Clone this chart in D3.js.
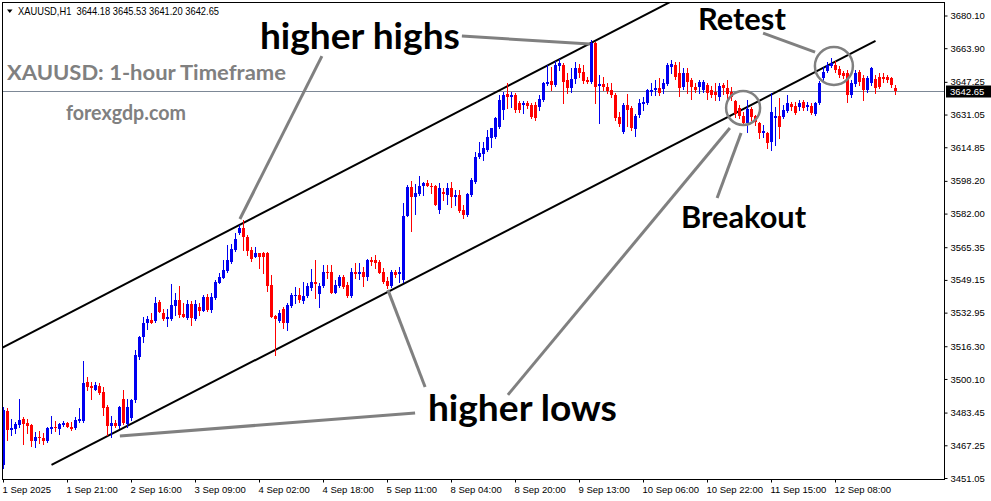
<!DOCTYPE html>
<html><head><meta charset="utf-8">
<script src="https://cdn.jsdelivr.net/npm/d3@7/dist/d3.min.js"></script>
<style>body{margin:0;background:#fff;}svg{display:block;}</style>
</head><body>
<svg id="c" width="991" height="501"></svg>
<script>
const symbolName = "XAUUSD,H1";
const opens = [3457.3,3484.3,3474.8,3475.3,3477.3,3480.3,3478.3,3477.3,3469.3,3471.3,3470.8,3469.3,3475.3,3476.3,3475.3,3477.3,3478.3,3476.3,3475.8,3479.3,
3479.3,3498.8,3496.8,3494.8,3496.8,3493.8,3486.3,3476.8,3478.3,3476.8,3490.3,3477.8,3480.8,3489.8,3510.9,3520.9,3527.9,3529.4,3528.9,3538.4,
3532.9,3529.9,3529.9,3536.4,3539.1,3532.4,3530.4,3537.4,3529.9,3535.9,3533.9,3540.6,3534.4,3540.1,3547.6,3550.1,3553.6,3558.1,3563.9,3572.4,
3574.9,3570.4,3563.9,3560.6,3562.6,3562.6,3562.6,3546.6,3531.4,3528.9,3534.9,3527.9,3536.4,3541.1,3541.6,3538.9,3541.1,3545.1,3548.1,3542.1,
3546.1,3553.1,3553.1,3542.6,3546.1,3550.6,3546.6,3541.1,3553.1,3552.1,3553.1,3550.6,3559.1,3559.1,3558.1,3553.1,3548.6,3546.1,3553.1,3552.1,
3549.1,3580.9,3595.1,3590.1,3591.6,3595.6,3597.1,3595.6,3595.6,3583.9,3592.6,3591.1,3594.6,3590.1,3591.1,3583.9,3581.4,3591.1,3597.6,3610.1,
3611.6,3613.4,3619.4,3619.9,3624.9,3633.4,3641.2,3639.7,3640.7,3636.9,3635.9,3636.9,3635.9,3635.9,3634.9,3638.2,3646.2,3647.7,3645.7,3655.2,
3655.7,3648.2,3644.2,3648.7,3654.2,3652.2,3648.2,3647.2,3666.4,3645.2,3646.2,3644.7,3643.2,3640.7,3629.9,3622.4,3635.9,3634.4,3623.9,3630.9,
3636.4,3636.9,3642.2,3643.2,3644.2,3643.7,3646.2,3654.7,3655.7,3651.7,3644.7,3651.7,3648.2,3644.7,3644.7,3643.2,3645.7,3643.2,3642.2,3639.7,
3645.7,3644.2,3642.2,3637.7,3634.4,3630.4,3626.9,3633.9,3630.4,3626.9,3621.9,3621.9,3617.4,3629.4,3630.4,3629.9,3632.9,3636.4,3635.4,3634.9,
3637.4,3634.9,3635.4,3631.4,3636.9,3649.2,3652.7,3655.2,3655.7,3653.7,3651.7,3651.7,3640.7,3646.2,3652.2,3649.2,3643.2,3646.7,3648.7,3649.7,
3649.7,3649.7,3649.2,3644.18];
const highs = [3486.3,3485.8,3480.3,3478.8,3490.3,3481.3,3480.3,3477.8,3473.8,3474.3,3473.3,3476.3,3481.8,3479.3,3478.3,3479.3,3478.8,3478.8,3481.3,3485.8,
3508.9,3501.3,3498.8,3498.8,3498.3,3496.3,3487.3,3481.8,3479.8,3486.8,3494.8,3490.3,3490.3,3514.4,3521.4,3530.9,3531.4,3532.9,3540.6,3539.4,
3534.9,3534.9,3547.1,3542.6,3546.1,3537.9,3539.1,3538.9,3539.1,3537.9,3541.6,3542.1,3542.6,3549.1,3552.6,3559.1,3566.4,3566.9,3572.4,3576.4,
3578.9,3571.4,3565.4,3565.4,3562.6,3563.1,3563.1,3551.6,3531.9,3534.4,3535.9,3537.9,3542.6,3545.6,3545.1,3548.1,3547.6,3554.6,3559.1,3547.6,
3556.6,3556.6,3556.6,3549.1,3551.6,3551.6,3548.1,3555.1,3557.6,3557.6,3555.6,3559.6,3560.6,3561.6,3559.1,3555.1,3550.6,3554.1,3554.1,3555.6,
3587.4,3596.1,3598.1,3596.6,3600.6,3597.6,3598.6,3597.1,3596.1,3597.1,3594.6,3597.1,3597.6,3593.6,3593.6,3586.4,3592.1,3599.6,3612.6,3617.4,
3617.4,3623.4,3624.4,3629.9,3640.7,3642.2,3646.7,3642.2,3641.7,3637.9,3637.9,3637.9,3636.9,3637.4,3640.7,3647.2,3655.7,3654.7,3657.7,3658.7,
3656.7,3651.7,3654.2,3657.2,3656.2,3655.7,3649.7,3668.2,3666.9,3650.7,3649.7,3646.7,3646.7,3641.7,3632.4,3636.9,3641.2,3635.4,3631.4,3638.7,
3639.7,3643.7,3646.7,3648.2,3649.2,3648.7,3656.7,3658.2,3657.2,3657.2,3654.2,3654.2,3649.2,3646.7,3648.2,3648.2,3646.7,3645.2,3646.7,3646.7,
3646.7,3648.2,3644.7,3638.2,3635.9,3632.4,3638.4,3634.9,3630.9,3627.4,3625.9,3622.4,3641.7,3634.9,3639.4,3635.9,3640.7,3637.4,3637.4,3638.4,
3638.4,3637.4,3636.9,3637.4,3647.7,3654.7,3657.2,3659.2,3657.7,3655.2,3652.7,3653.2,3648.2,3653.2,3653.2,3650.7,3650.2,3654.7,3650.7,3651.7,
3651.7,3650.7,3649.7,3645.53];
const lows = [3455.8,3469.8,3472.3,3473.3,3476.3,3467.8,3473.3,3466.8,3466.3,3468.3,3467.8,3468.8,3473.3,3474.3,3472.8,3476.8,3476.3,3474.8,3475.3,3478.8,
3478.8,3494.8,3490.3,3494.8,3492.8,3482.3,3472.3,3471.3,3476.3,3475.8,3477.8,3476.3,3479.8,3488.8,3509.9,3518.4,3524.9,3527.9,3528.4,3533.4,
3529.4,3526.4,3529.4,3531.9,3530.9,3530.9,3529.9,3526.9,3529.4,3531.9,3533.9,3533.9,3533.4,3539.6,3547.6,3550.1,3553.1,3557.6,3563.4,3571.9,
3563.9,3561.6,3558.6,3560.6,3555.1,3552.6,3543.6,3530.9,3511.9,3528.4,3525.4,3524.4,3535.9,3537.9,3538.4,3537.9,3540.6,3544.1,3540.1,3535.9,
3545.6,3550.1,3542.6,3542.6,3545.6,3545.1,3540.6,3540.6,3550.1,3549.6,3546.1,3549.1,3556.6,3555.1,3552.6,3547.6,3545.1,3545.6,3550.6,3548.1,
3548.1,3580.9,3573.4,3581.9,3591.1,3591.1,3595.6,3592.1,3586.4,3582.4,3588.6,3586.9,3585.4,3586.4,3582.9,3579.9,3580.9,3590.6,3597.1,3609.6,
3608.6,3612.9,3614.9,3619.4,3624.4,3628.9,3634.4,3634.9,3632.4,3632.4,3631.9,3634.4,3629.4,3628.4,3633.4,3637.7,3645.7,3643.2,3645.2,3653.2,
3636.9,3641.7,3642.2,3646.7,3649.7,3646.7,3646.7,3646.7,3636.9,3626.9,3643.2,3641.7,3639.7,3628.4,3625.4,3621.9,3625.4,3623.4,3620.4,3629.9,
3633.4,3636.4,3640.7,3640.7,3640.7,3641.7,3645.7,3651.7,3648.7,3640.2,3643.7,3641.7,3638.7,3642.2,3641.7,3642.2,3638.7,3639.7,3638.2,3638.2,
3641.2,3638.7,3638.2,3629.9,3629.4,3625.9,3622.4,3628.4,3625.9,3619.4,3619.9,3614.4,3613.4,3615.9,3619.4,3629.4,3632.4,3633.4,3631.4,3633.4,
3633.4,3633.4,3631.4,3630.9,3636.4,3648.2,3652.2,3654.7,3652.2,3649.7,3649.2,3637.4,3639.7,3645.2,3645.7,3638.2,3642.2,3645.7,3641.7,3644.2,
3647.2,3647.2,3644.7,3641.20];
const closes = [3484.8,3474.8,3475.8,3477.8,3479.8,3477.8,3476.8,3469.3,3471.3,3470.8,3469.3,3475.8,3476.3,3475.8,3477.8,3478.3,3476.3,3475.3,3479.8,3480.3,
3498.3,3496.3,3495.8,3497.3,3493.3,3485.8,3476.8,3478.3,3476.8,3486.3,3478.3,3486.3,3489.8,3511.9,3520.9,3527.9,3529.9,3527.9,3537.9,3533.4,
3529.9,3530.9,3536.9,3539.1,3531.9,3530.9,3537.4,3530.4,3537.4,3533.9,3540.6,3534.4,3540.6,3548.1,3550.6,3554.1,3559.1,3564.4,3569.4,3574.9,
3570.4,3563.4,3559.6,3562.6,3560.6,3560.6,3546.1,3530.9,3529.9,3532.9,3527.9,3536.9,3541.6,3541.6,3539.1,3541.1,3546.1,3548.1,3547.1,3546.1,
3553.1,3552.6,3542.6,3546.6,3550.6,3545.6,3541.1,3553.1,3552.1,3553.1,3550.6,3559.1,3558.1,3557.6,3552.6,3548.1,3546.1,3553.1,3551.6,3553.1,
3580.9,3595.1,3590.1,3592.1,3595.6,3597.1,3595.6,3595.1,3586.4,3594.6,3591.6,3594.6,3590.1,3591.1,3583.4,3581.4,3591.6,3598.6,3610.1,3612.1,
3614.4,3619.9,3624.4,3629.4,3638.2,3640.7,3639.7,3640.7,3633.4,3633.4,3636.9,3635.4,3629.9,3629.4,3638.7,3646.7,3647.2,3645.7,3655.7,3656.7,
3647.2,3644.2,3648.7,3654.2,3651.7,3647.7,3647.2,3666.4,3644.7,3646.2,3644.7,3642.7,3640.7,3629.4,3626.4,3635.9,3633.4,3624.4,3630.4,3636.9,
3637.4,3643.2,3643.2,3644.2,3641.7,3646.7,3655.7,3656.2,3649.7,3644.2,3651.7,3647.2,3644.7,3643.2,3647.2,3647.2,3641.7,3640.7,3640.7,3645.2,
3644.2,3641.2,3639.7,3631.4,3630.4,3626.9,3633.9,3629.9,3627.4,3621.9,3622.9,3616.9,3632.4,3630.4,3624.9,3633.4,3636.9,3634.9,3631.9,3636.9,
3634.4,3635.9,3631.9,3636.9,3646.7,3652.2,3655.7,3656.7,3653.2,3650.7,3650.2,3640.7,3646.7,3651.7,3647.2,3643.2,3649.2,3654.2,3644.2,3644.7,
3648.7,3648.2,3645.7,3642.65];
const priceTicks = [3680.10,3663.90,3647.25,3631.05,3614.85,3598.20,3582.00,3565.35,3549.15,3532.95,3516.30,3500.10,3483.45,3467.25,3451.05];
const timeLabels = ["1 Sep 2025","1 Sep 21:00","2 Sep 16:00","3 Sep 09:00","4 Sep 02:00","4 Sep 18:00","5 Sep 11:00","8 Sep 04:00","8 Sep 20:00","9 Sep 13:00","10 Sep 06:00","10 Sep 22:00","11 Sep 15:00","12 Sep 08:00"];
const barsPerTimeLabel = 16;
// annotations in (bar index, price)
const upperChannel = [[0,3515.9],[146,3665.6]];
const lowerChannel = [[12,3457.5],[218,3667.5]];
const pointers = [
  [[114.6,3669.9],[146.6,3666.0]],
  [[79.6,3660.0],[59.1,3579.3]],
  [[102.9,3483.2],[29.1,3471.9]],
  [[105.4,3496.1],[96.1,3544.2]],
  [[126.1,3492.2],[181.6,3624.4]],
  [[178.4,3589.7],[184.4,3621.9]],
  [[189.9,3671.4],[202.9,3662.0]]
];
const circles = [[184.9,3634.3,17],[207.6,3655.1,19]];
const labels = [
  {t:"higher highs", i:64.1, p:3663.5, fs:36, w:200},
  {t:"higher lows", i:106.1, p:3479.3, fs:36, w:189},
  {t:"Breakout", i:169.4, p:3574.9, fs:30, w:125},
  {t:"Retest", i:173.6, p:3672.9, fs:30, w:88}
];

const svg = d3.select("#c");
const N = closes.length;
const L = 2.5, T = 2.5, R = 944.5, B = 479.5;
const x = d3.scaleLinear().domain([0, N - 1]).range([3.5, 3.5 + 4 * (N - 1)]);
const y = d3.scaleLinear().domain([3451.05, 3680.10]).range([478, 15.5]);

svg.append("defs").append("clipPath").attr("id","pc").append("rect")
  .attr("x", L).attr("y", T).attr("width", R - L).attr("height", B - T);

const plot = svg.append("g").attr("clip-path","url(#pc)");

// current price line
const last = N - 1;
const cy = Math.round(y(closes[last])) + 0.5;
plot.append("line").attr("x1", L).attr("x2", R).attr("y1", cy).attr("y2", cy)
  .attr("stroke", "#7d8896").attr("stroke-width", 1);

// channels
const lineGen = d3.line().x(d => x(d[0])).y(d => y(d[1]));
function extend(a, b, i0, i1) {
  const s = (b[1] - a[1]) / (b[0] - a[0]);
  return [[i0, a[1] + s * (i0 - a[0])], [i1, a[1] + s * (i1 - a[0])]];
}
plot.append("path").attr("d", lineGen(extend(upperChannel[0], upperChannel[1], -5, 260)))
  .attr("stroke", "#000").attr("stroke-width", 2).attr("fill", "none");
plot.append("path").attr("d", lineGen(lowerChannel))
  .attr("stroke", "#000").attr("stroke-width", 2).attr("fill", "none");

// candles
const idx = d3.range(N);
const col = i => closes[i] >= opens[i] ? "#0000f0" : "#ff0000";
plot.append("g").selectAll("line").data(idx).join("line")
  .attr("x1", i => x(i)).attr("x2", i => x(i))
  .attr("y1", i => Math.round(y(highs[i]))).attr("y2", i => Math.round(y(lows[i])) + 1)
  .attr("stroke", col).attr("stroke-width", 1);
plot.append("g").selectAll("rect").data(idx).join("rect")
  .attr("x", i => x(i) - 1.5).attr("width", 3)
  .attr("y", i => Math.round(y(Math.max(opens[i], closes[i]))))
  .attr("height", i => Math.max(1, Math.round(y(Math.min(opens[i], closes[i]))) - Math.round(y(Math.max(opens[i], closes[i])))))
  .attr("fill", col);

// pointers
plot.append("g").selectAll("path").data(pointers).join("path")
  .attr("d", d => lineGen(d)).attr("stroke", "#808080").attr("stroke-width", 3)
  .attr("fill", "none");
plot.append("g").selectAll("circle").data(circles).join("circle")
  .attr("cx", d => x(d[0])).attr("cy", d => y(d[1])).attr("r", d => d[2])
  .attr("fill", "none").attr("stroke", "#808080").attr("stroke-width", 2.5);

// annotation labels
svg.append("g").selectAll("text").data(labels).join("text")
  .attr("x", d => x(d.i)).attr("y", d => y(d.p))
  .attr("font-family", "Lato, 'Open Sans', sans-serif").attr("font-weight", 700)
  .attr("font-size", d => d.fs).attr("textLength", d => d.w)
  .attr("lengthAdjust", "spacingAndGlyphs").attr("fill", "#000").text(d => d.t);

// watermark texts
svg.append("text").attr("x", 7).attr("y", 80).attr("font-family", "Lato, sans-serif")
  .attr("font-weight", 700).attr("font-size", 20).attr("fill", "#808080")
  .attr("textLength", 279).attr("lengthAdjust", "spacingAndGlyphs").text("XAUUSD: 1-hour Timeframe");
svg.append("text").attr("x", 66).attr("y", 120).attr("font-family", "Lato, sans-serif")
  .attr("font-weight", 700).attr("font-size", 20).attr("fill", "#808080")
  .attr("textLength", 120).attr("lengthAdjust", "spacingAndGlyphs").text("forexgdp.com");

// header
svg.append("path").attr("d", "M7,9.5 L12.5,9.5 L9.75,13 Z").attr("fill", "#000");
const f2 = d3.format(".2f");
svg.append("text").attr("x", 18).attr("y", 15).attr("font-family", "'Liberation Sans', Arial, sans-serif")
  .attr("font-size", 11).attr("fill", "#000").style("white-space", "pre")
  .attr("textLength", 201).attr("lengthAdjust", "spacingAndGlyphs")
  .text(`${symbolName}  ${f2(opens[last])} ${f2(highs[last])} ${f2(lows[last])} ${f2(closes[last])}`);

// frame
svg.append("rect").attr("x", L).attr("y", T).attr("width", R - L).attr("height", B - T)
  .attr("fill", "none").attr("stroke", "#000").attr("stroke-width", 1);

// y axis
const yAxis = svg.append("g").attr("transform", `translate(${R},0)`)
  .call(d3.axisRight(y).tickValues(priceTicks).tickSize(3).tickPadding(3).tickFormat(f2));
yAxis.select(".domain").remove();
yAxis.selectAll("text").attr("font-family", "'Liberation Sans', Arial, sans-serif").attr("font-size", 9.5).attr("fill", "#000");
yAxis.selectAll("line").attr("stroke", "#000");

// x axis
const tickIdx = timeLabels.map((_, k) => k * barsPerTimeLabel);
const xAxis = svg.append("g").attr("transform", `translate(-0.5,${B})`)
  .call(d3.axisBottom(x).tickValues(tickIdx).tickSize(3).tickPadding(4).tickFormat((d, k) => timeLabels[k]));
xAxis.select(".domain").remove();
xAxis.selectAll("text").attr("text-anchor", "start").attr("dx", -1)
  .attr("font-family", "'Liberation Sans', Arial, sans-serif").attr("font-size", 9.5).attr("fill", "#000");
xAxis.selectAll("line").attr("stroke", "#000");

// current price label
const pl = svg.append("g").attr("transform", `translate(946,${cy})`);
pl.append("rect").attr("x", 0).attr("y", -6).attr("width", 45).attr("height", 12).attr("fill", "#000");
pl.append("text").attr("x", 4).attr("y", 0).attr("dy", "0.35em").attr("font-family", "'Liberation Sans', Arial, sans-serif")
  .attr("font-size", 9.5).attr("fill", "#fff").text(f2(closes[last]));
</script>
</body></html>
